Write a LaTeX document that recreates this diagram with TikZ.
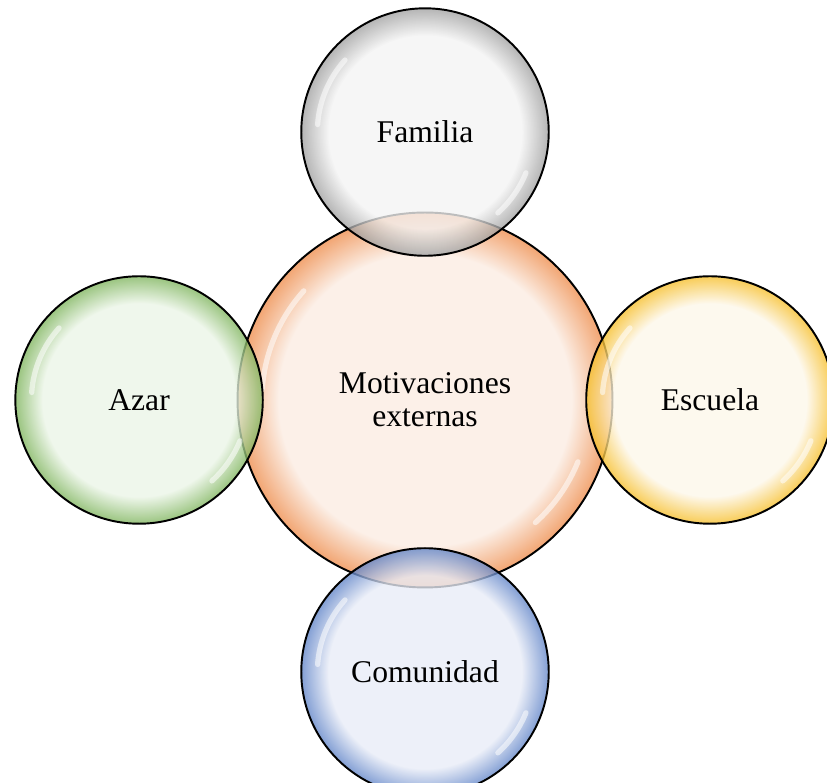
\documentclass[tikz,border=0pt]{standalone}
\usepackage{fontspec}
\setmainfont{Liberation Serif}
\usetikzlibrary{positioning,calc,shapes}
\definecolor{orangeEdge}{RGB}{238,140,75}
\definecolor{orangeCore}{RGB}{251,236,226}
\definecolor{grayEdge}{RGB}{160,160,160}
\definecolor{grayCore}{RGB}{243,243,243}
\definecolor{greenEdge}{RGB}{126,180,92}
\definecolor{greenCore}{RGB}{235,245,231}
\definecolor{yellowEdge}{RGB}{246,190,40}
\definecolor{yellowCore}{RGB}{253,247,233}
\definecolor{blueEdge}{RGB}{96,132,200}
\definecolor{blueCore}{RGB}{232,236,247}
\colorlet{bubbleedge}{gray}
\colorlet{bubblecore}{white}
\pgfdeclareradialshading[bubbleedge,bubblecore]{bubble}{\pgfpoint{0bp}{0bp}}{color(0bp)=(bubblecore); color(19.5bp)=(bubblecore); color(25bp)=(bubbleedge); color(50bp)=(bubbleedge)}
\tikzset{
  bubble/.style 2 args = {shape=circle, draw=black, line width=1.1pt,
                     /utils/exec={\colorlet{bubbleedge}{#1}\colorlet{bubblecore}{#2}},
                     shading=bubble, fill opacity=0.78, text opacity=1,
                     inner sep=0pt, align=center,
                     font=\fontsize{18}{19}\selectfont,
                     path picture={
                       \draw [white, line width=3pt, opacity=0.55, line cap=round]
                         let \p1=(path picture bounding box.center),
                             \p2=(path picture bounding box.east) in
                         ($(\p1)+(176:{0.87*(\x2-\x1)})$) arc [start angle=176, end angle=138, radius={0.87*(\x2-\x1)}]
                         ($(\p1)+(-22:{0.88*(\x2-\x1)})$) arc [start angle=-22, end angle=-48, radius={0.88*(\x2-\x1)}];
                     }},
  hub/.style   = {bubble={orangeEdge}{orangeCore}, minimum size=7.5cm},
  outer/.style = {minimum size=4.95cm}
}
\begin{document}
\begin{tikzpicture}[x=0.02cm,y=0.02cm]
	\useasboundingbox (0,0) rectangle (827,783);
	% centre
	\node [hub] (motivExt) at (425,383) {Motivaciones\\externas};
	% around it
	\node [bubble={grayEdge}{grayCore}, outer, above of=motivExt, node distance=5.36cm] (familia) {Familia};
	\node [bubble={greenEdge}{greenCore}, outer, left of=motivExt, node distance=5.72cm] (azar) {Azar};
	\node [bubble={yellowEdge}{yellowCore}, outer, right of=motivExt, node distance=5.7cm] (escuela) {Escuela};
	\node [bubble={blueEdge}{blueCore}, outer, below of=motivExt, node distance=5.44cm] (comunidad) {Comunidad};
\end{tikzpicture}
\end{document}
